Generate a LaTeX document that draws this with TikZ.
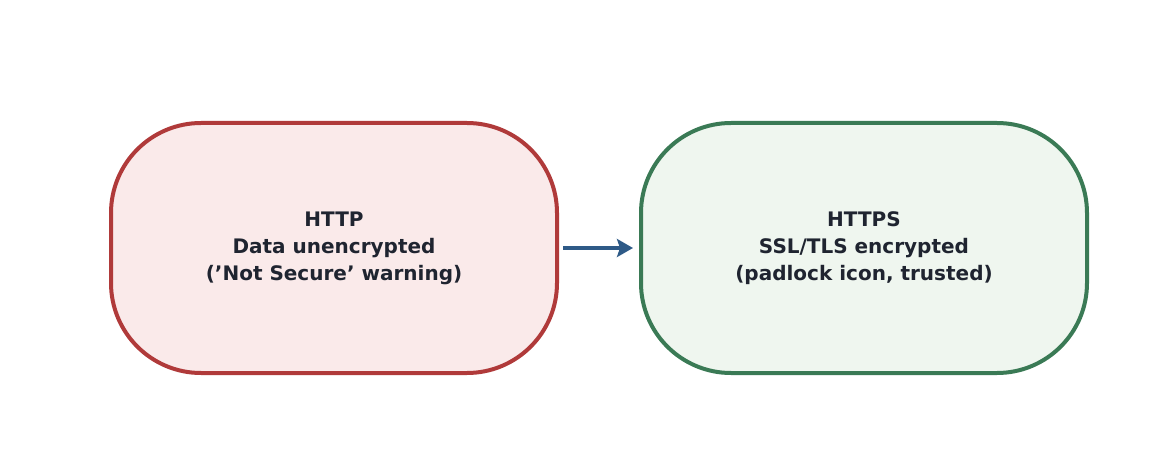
\documentclass[tikz,border=0pt]{standalone}
\usepackage{fontspec}
\setmainfont{DejaVu Sans}
\usetikzlibrary{arrows.meta}
\definecolor{rd}{HTML}{B03A3A}\definecolor{rdf}{HTML}{FAEAEA}
\definecolor{gn}{HTML}{3A7A55}\definecolor{gnf}{HTML}{EFF6EF}
\definecolor{ar}{HTML}{2E5A87}\definecolor{tx}{HTML}{1F2430}
\begin{document}
\begin{tikzpicture}[x=1pt,y=1pt,
 box/.style={rounded corners=90pt,line width=4pt,minimum width=446pt,minimum height=250pt,align=center,text=tx,font=\fontsize{20}{27}\selectfont\bfseries,inner sep=0pt}]
\useasboundingbox (0,0) rectangle (1170,469);
\node[box,draw=rd,fill=rdf] (a) at (334,221) {HTTP\\Data unencrypted\\('Not Secure' warning)};
\node[box,draw=gn,fill=gnf] (b) at (864,221) {HTTPS\\SSL/TLS encrypted\\(padlock icon, trusted)};
\draw[ar,line width=4pt,-{Stealth[length=16pt,width=18pt,inset=3pt]}] ([xshift=4pt]a.east) -- ([xshift=-6pt]b.west);
\end{tikzpicture}
\end{document}
